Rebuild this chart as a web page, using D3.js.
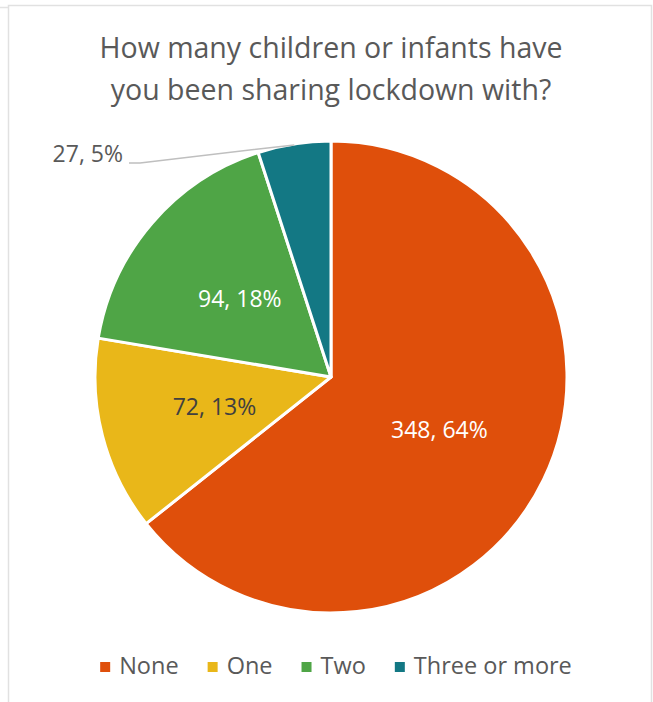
<!DOCTYPE html>
<html>
<head>
<meta charset="utf-8">
<script src="https://cdn.jsdelivr.net/npm/d3@7/dist/d3.min.js"></script>
<style>
  html, body { margin: 0; padding: 0; background: #fff; }
  svg { display: block; }
  text { font-family: "Open Sans", "Noto Sans", sans-serif; }
</style>
</head>
<body>
<svg id="chart" width="653" height="702"></svg>
<script>
// Survey answers: number of children/infants sharing lockdown
const categories = ["None", "One", "Two", "Three or more"];
const counts = [348, 72, 94, 27];
const percentLabels = ["64%", "13%", "18%", "5%"];
const colors = ["#DF4F0B", "#E9B719", "#4FA546", "#137884"];
const titleLines = ["How many children or infants have", "you been sharing lockdown with?"];

const W = 653, H = 702;
const svg = d3.select("#chart");

// panel frame
svg.append("line").attr("x1", 0).attr("x2", 8).attr("y1", 7.5).attr("y2", 7.5)
  .attr("stroke", "#e3e3e3").attr("stroke-width", 1.5);
svg.append("rect").attr("x", 8.5).attr("y", 5.5).attr("width", 643).attr("height", 720)
  .attr("fill", "#fff").attr("stroke", "#e1e1e1").attr("stroke-width", 1.5);

// title
svg.append("g").selectAll("text").data(titleLines).join("text")
  .attr("x", 331).attr("y", (d, i) => 58 + i * 42)
  .attr("text-anchor", "middle")
  .attr("font-size", 28.5)
  .attr("fill", "#595959")
  .text(d => d);

// pie
const cx = 331, cy = 377, R = 236;
const data = categories.map((c, i) => ({ cat: c, value: counts[i], pct: percentLabels[i], color: colors[i] }));
const pie = d3.pie().value(d => d.value).sort(null);
const arcs = pie(data);
const arc = d3.arc().innerRadius(0).outerRadius(R);
const labelArc = d3.arc().innerRadius(R * 0.51).outerRadius(R * 0.51);

const g = svg.append("g").attr("transform", `translate(${cx},${cy})`);
g.selectAll("path").data(arcs).join("path")
  .attr("d", arc)
  .attr("fill", d => d.data.color)
  .attr("stroke", "#fff")
  .attr("stroke-width", 3)
  .attr("stroke-linejoin", "round");

// inside labels for the three larger slices
const inside = arcs.slice(0, 3);
g.selectAll("text.in").data(inside).join("text")
  .attr("class", "in")
  .attr("transform", d => `translate(${labelArc.centroid(d)})`)
  .attr("text-anchor", "middle")
  .attr("dy", "0.36em")
  .attr("font-size", 23)
  .attr("fill", d => d.data.cat === "One" ? "#404040" : "#ffffff")
  .text(d => `${d.data.value}, ${d.data.pct}`);

// outside label with leader line for the smallest slice
const small = arcs[3];
const mid = (small.startAngle + small.endAngle) / 2;
const edge = [Math.sin(mid) * (R - 1), -Math.cos(mid) * (R - 1)];
const elbowY = edge[1] + 18;
const elbow = [-191, elbowY];
const end = [-202, elbowY];
g.append("polyline")
  .attr("points", [edge, elbow, end].map(p => p.join(",")).join(" "))
  .attr("fill", "none").attr("stroke", "#bfbfbf").attr("stroke-width", 1.5);
g.append("text")
  .attr("x", end[0] - 6).attr("y", end[1] - 9)
  .attr("text-anchor", "end")
  .attr("dy", "0.36em")
  .attr("font-size", 23)
  .attr("fill", "#595959")
  .text(`${small.data.value}, ${small.data.pct}`);

// legend
const legend = svg.append("g");
const items = legend.selectAll("g").data(data).join("g");
items.append("rect").attr("width", 10).attr("height", 10).attr("y", -4)
  .attr("fill", d => d.color);
items.append("text").attr("x", 19).attr("dy", "0.36em")
  .attr("font-size", 23.5).attr("fill", "#595959")
  .text(d => d.cat);
const gap = 29;
let widths = [];
items.each(function () { widths.push(this.getBBox().width); });
const total = d3.sum(widths) + gap * (widths.length - 1);
let x0 = cx + 5 - total / 2;
items.attr("transform", (d, i) => {
  const t = `translate(${x0},666)`;
  x0 += widths[i] + gap;
  return t;
});
</script>
</body>
</html>
